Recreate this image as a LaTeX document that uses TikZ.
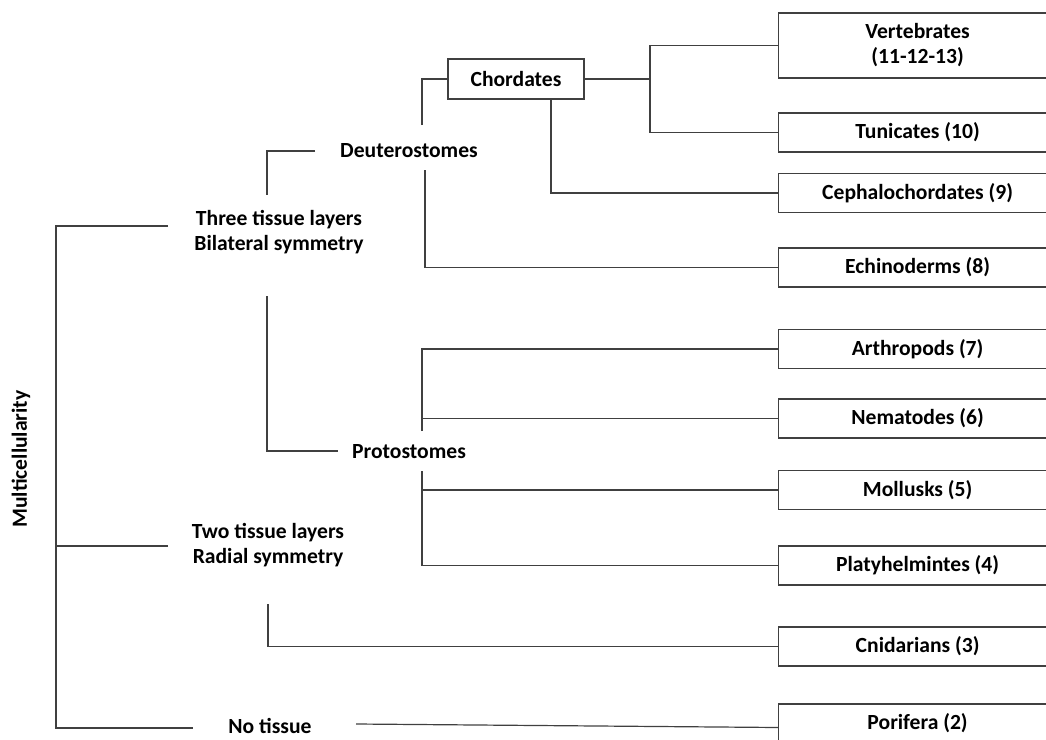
\documentclass[tikz,border=0pt]{standalone}
\usepackage{fontspec}
\setmainfont{Carlito}
\usetikzlibrary{calc}

\begin{document}
\begin{tikzpicture}[
		x=0.75pt,y=-0.75pt,
		label/.style={font=\fontsize{16.2}{18.75}\selectfont\bfseries,align=center,inner sep=0pt},
		taxon/.style={draw=black!75,line width=0.9pt,fill=white,rectangle,minimum width=208.5pt,minimum height=29.25pt,font=\fontsize{16.2}{18.75}\selectfont\bfseries,align=center,anchor=west},
		conn/.style={draw=black!75,line width=0.9pt}
		]
		\useasboundingbox (0,0) rectangle (1046,739);
		\clip (0,0) rectangle (1046,739);
		
		% Groups on the right
		\node[taxon,minimum height=48.75pt] (vert) at (778,45.5) {Vertebrates\\(11-12-13)};
		\node[taxon] (tuni) at (778,132.5) {Tunicates (10)};
		\node[taxon] (ceph) at (778,193) {Cephalochordates (9)};
		\node[taxon] (echi) at (778,267.5) {Echinoderms (8)};
		\node[taxon] (arth) at (778,349) {Arthropods (7)};
		\node[taxon] (nema) at (778,418.5) {Nematodes (6)};
		\node[taxon] (moll) at (778,490) {Mollusks (5)};
		\node[taxon] (plat) at (778,565.5) {Platyhelmintes (4)};
		\node[taxon] (cnid) at (778,646.5) {Cnidarians (3)};
		\node[taxon] (pori) at (778,723.5) {Porifera (2)};
		
		% Clades
		\node[taxon,anchor=center,minimum width=102pt,minimum height=30pt] (chord) at (516,79) {Chordates};
		\node[label] (deut) at (409,151) {Deuterostomes};
		\node[label] (prot) at (409,452) {Protostomes};
		\node[label] (three) at (279,232) {Three tissue layers\\Bilateral symmetry};
		\node[label] (two) at (268,545) {Two tissue layers\\Radial symmetry};
		\node[label] (none) at (270,726) {No tissue};
		\node[label,rotate=90] (multi) at (21,459) {Multicellularity};
		
		% Free ends
		\coordinate (deutL) at (315,151);
		\coordinate (deutB) at (425,170);
		\coordinate (chordL) at (422,125);
		\coordinate (cj) at (650,79);
		\coordinate (threeT) at (267,195);
		\coordinate (threeB) at (267,296);
		\coordinate (threeL) at (168,226);
		\coordinate (protL) at (338,451);
		\coordinate (protT) at (422,431);
		\coordinate (protB) at (422,471);
		\coordinate (twoL) at (168,546);
		\coordinate (twoB) at (268,604);
		\coordinate (noL) at (193,728);
		\coordinate (noR) at (356,724);
		\coordinate (spine) at (56,0);
		
		% Lines
		\draw[conn] (deutL) -| (threeT);
		\draw[conn] (deutB) |- (echi.west);
		\draw[conn] (chordL) |- (chord.west);
		\draw[conn] (chord.east) -- (cj);
		\draw[conn] (cj) |- (vert.west);
		\draw[conn] (cj) |- (tuni.west);
		\draw[conn] ($(chord.south)+(35,0)$) |- (ceph.west);
		\draw[conn] (threeB) |- (protL);
		\draw[conn] (protT) |- (arth.west);
		\draw[conn] (protT |- nema.west) -- (nema.west);
		\draw[conn] (protB) |- (plat.west);
		\draw[conn] (protB |- moll.west) -- (moll.west);
		\draw[conn] (threeL) -- (threeL -| spine) -- (noL -| spine) -- (noL);
		\draw[conn] (twoL) -- (twoL -| spine);
		\draw[conn] (twoB) |- (cnid.west);
		\draw[conn] (noR) -- ($(pori.west)+(0,4)$);
		
	\end{tikzpicture}
\end{document}
